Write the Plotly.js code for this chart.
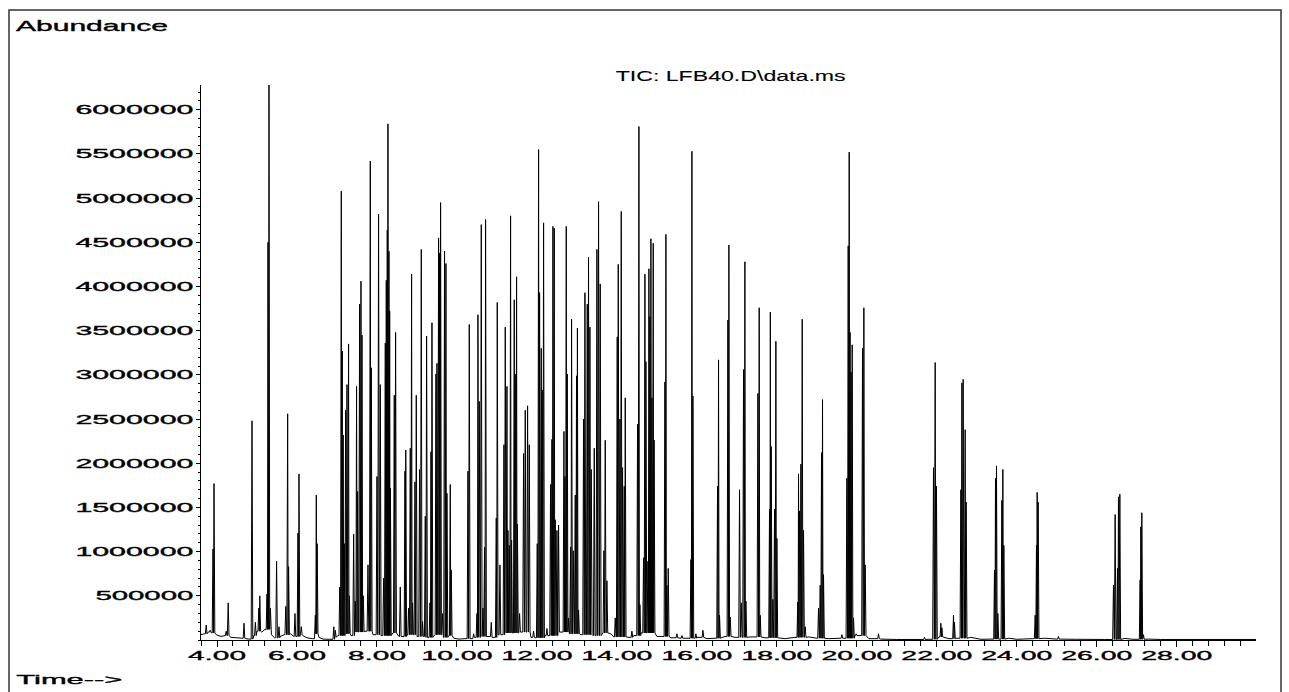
<!DOCTYPE html>
<html>
<head>
<meta charset="utf-8">
<script src="https://cdn.plot.ly/plotly-3.0.1.min.js"></script>
<style>
  html, body { margin: 0; padding: 0; background: #fff; }
  #chart { width: 1289px; height: 692px; }
  #chart .xtick text, #chart .ytick text, #chart .annotation-text { stroke: #000; stroke-width: 0.35px; }
  #chart .annotation[data-index="1"] .annotation-text { stroke-width: 0.1px; }
</style>
</head>
<body>
<div id="chart"></div>
<script>
// ---- Data (retention time in minutes, abundance in counts) ----
const peakTime = [
  3.73, 3.83, 3.90, 3.925, 4.23, 4.28, 4.675, 4.875, 4.96, 5.045,
  5.07, 5.25, 5.275, 5.30, 5.335, 5.49, 5.55, 5.72, 5.767, 5.79,
  5.95, 6.025, 6.05, 6.108, 6.458, 6.483, 6.505, 6.92, 6.96, 7.07,
  7.108, 7.133, 7.155, 7.183, 7.216, 7.25, 7.29, 7.31, 7.417, 7.458,
  7.49, 7.516, 7.566, 7.60, 7.625, 7.658, 7.775, 7.833, 7.858, 8.00,
  8.04, 8.083, 8.166, 8.208, 8.233, 8.258, 8.275, 8.30, 8.318, 8.336,
  8.433, 8.466, 8.583, 8.70, 8.72, 8.79, 8.833, 8.866, 8.89, 8.95,
  8.983, 9.065, 9.108, 9.14, 9.208, 9.241, 9.325, 9.35, 9.375, 9.475,
  9.50, 9.541, 9.566, 9.591, 9.641, 9.69, 9.725, 9.75, 9.833, 9.858,
  10.275, 10.308, 10.416, 10.50, 10.525, 10.558, 10.608, 10.65, 10.69, 10.716,
  10.858, 10.983, 11.008, 11.075, 11.175, 11.208, 11.25, 11.275, 11.308, 11.341,
  11.366, 11.433, 11.458, 11.491, 11.512, 11.566, 11.666, 11.708, 11.766, 11.808,
  11.916, 12.008, 12.041, 12.066, 12.108, 12.133, 12.166, 12.25, 12.341, 12.375,
  12.40, 12.433, 12.458, 12.50, 12.541, 12.675, 12.70, 12.733, 12.758, 12.791,
  12.841, 12.866, 12.908, 12.958, 12.99, 13.012, 13.041, 13.166, 13.20, 13.258,
  13.29, 13.325, 13.358, 13.433, 13.50, 13.541, 13.583, 13.675, 13.708, 13.75,
  13.958, 14.008, 14.033, 14.075, 14.108, 14.141, 14.183, 14.208, 14.375, 14.516,
  14.55, 14.575, 14.666, 14.70, 14.725, 14.775, 14.80, 14.825, 14.85, 14.875,
  14.908, 14.93, 15.20, 15.225, 15.25, 15.283, 15.50, 15.625, 15.85, 15.875,
  15.90, 15.975, 16.15, 16.516, 16.541, 16.566, 16.775, 16.80, 16.833, 17.066,
  17.108, 17.166, 17.20, 17.225, 17.525, 17.558, 17.583, 17.816, 17.836, 17.858,
  17.90, 17.941, 17.975, 18.00, 18.522, 18.541, 18.566, 18.60, 18.633, 18.666,
  18.708, 19.041, 19.083, 19.116, 19.141, 19.166, 19.625, 19.75, 19.783, 19.808,
  19.83, 19.855, 19.883, 19.916, 19.983, 20.141, 20.175, 20.208, 20.541, 21.69,
  21.916, 21.958, 21.99, 22.10, 22.125, 22.416, 22.44, 22.60, 22.625, 22.658,
  22.708, 22.733, 23.441, 23.466, 23.491, 23.525, 23.625, 23.65, 23.675, 24.458,
  24.491, 24.508, 24.533, 25.04, 26.416, 26.458, 26.516, 26.541, 26.575, 27.083,
  27.10, 27.125, 27.166
];
const peakAbundance = [
  170000, 110000, 1030000, 1770000, 100000, 420000, 190000, 2480000, 200000, 360000,
  500000, 520000, 4500000, 6280000, 360000, 890000, 150000, 380000, 2560000, 830000,
  300000, 1210000, 1880000, 150000, 280000, 1640000, 1090000, 150000, 110000, 600000,
  5080000, 3270000, 2320000, 1090000, 2600000, 2890000, 3350000, 500000, 1200000, 440000,
  2870000, 1680000, 3800000, 4060000, 3450000, 500000, 850000, 5420000, 3080000, 1850000,
  4820000, 2890000, 700000, 3360000, 4070000, 4640000, 5840000, 4400000, 3720000, 1720000,
  2770000, 3480000, 600000, 1910000, 2150000, 360000, 2170000, 4140000, 420000, 1790000,
  2770000, 1930000, 4420000, 210000, 1400000, 3440000, 420000, 2130000, 3590000, 3010000,
  3130000, 4550000, 4380000, 4950000, 300000, 4400000, 4260000, 1660000, 1760000, 790000,
  1910000, 3570000, 70000, 300000, 3680000, 2700000, 4700000, 360000, 1050000, 4760000,
  200000, 1380000, 3820000, 850000, 2210000, 3540000, 2870000, 1240000, 1070000, 4800000,
  1130000, 3850000, 3010000, 4110000, 1310000, 300000, 2110000, 2600000, 2650000, 2210000,
  100000, 1090000, 5550000, 3930000, 3300000, 2830000, 4720000, 130000, 1760000, 2270000,
  4680000, 4660000, 1360000, 1240000, 1300000, 2360000, 1850000, 4680000, 3010000, 250000,
  1050000, 3630000, 1010000, 1640000, 2990000, 3530000, 340000, 2500000, 3930000, 3800000,
  4330000, 3540000, 1930000, 2170000, 4420000, 4960000, 4030000, 1010000, 2260000, 670000,
  250000, 3430000, 4250000, 2500000, 4850000, 1950000, 1740000, 2740000, 100000, 2440000,
  5810000, 400000, 930000, 4140000, 3150000, 890000, 4200000, 3660000, 4540000, 2740000,
  4490000, 2260000, 2920000, 4590000, 620000, 810000, 70000, 50000, 910000, 5530000,
  2760000, 70000, 110000, 1740000, 3170000, 280000, 3620000, 4470000, 260000, 1700000,
  420000, 3060000, 4280000, 440000, 2790000, 3760000, 280000, 1480000, 3710000, 2190000,
  460000, 1480000, 3380000, 1150000, 430000, 1880000, 1460000, 1990000, 3630000, 1240000,
  150000, 360000, 620000, 2120000, 2720000, 740000, 60000, 1830000, 4460000, 5520000,
  3480000, 3030000, 3340000, 250000, 70000, 3300000, 3760000, 850000, 70000, 30000,
  1950000, 3140000, 1740000, 190000, 140000, 280000, 200000, 1700000, 2910000, 2950000,
  2380000, 1560000, 790000, 1830000, 1970000, 300000, 1580000, 1930000, 1070000, 280000,
  1070000, 1670000, 1560000, 40000, 620000, 1420000, 810000, 1620000, 1650000, 680000,
  1280000, 1440000, 60000
];
// Baseline readings between the peaks
const baseTime = [
  3.60, 3.68, 3.78, 3.86, 3.98, 4.10, 4.20, 4.35, 4.50, 4.62,
  4.72, 4.80, 4.92, 5.00, 5.12, 5.20, 5.36, 5.44, 5.58, 5.68,
  5.84, 5.92, 6.08, 6.16, 6.25, 6.38, 6.44, 6.55, 6.65, 6.85,
  6.95, 7.02, 7.20, 7.35, 7.45, 7.70, 7.90, 8.10, 8.40, 8.55,
  8.75, 9.00, 9.20, 9.45, 9.65, 9.80, 9.92, 10.05, 10.20, 10.40,
  10.60, 10.85, 11.00, 11.20, 11.55, 11.85, 11.95, 12.20, 12.55, 12.80,
  13.10, 13.40, 13.65, 13.85, 13.92, 14.30, 14.42, 14.60, 15.00, 15.35,
  15.60, 16.00, 16.25, 16.45, 16.70, 16.95, 17.35, 17.70, 18.20, 18.45,
  18.80, 19.00, 19.30, 19.60, 19.95, 20.30, 20.60, 21.00, 21.80, 22.05,
  22.30, 22.50, 22.85, 23.10, 23.35, 23.80, 24.00, 24.40, 24.70, 25.00,
  25.50, 26.20, 26.70, 26.90, 27.30, 27.60, 30.00
];
const baseLevel = [
  60000, 70000, 90000, 80000, 60000, 40000, 50000, 30000, 25000, 20000,
  15000, 10000, 50000, 100000, 90000, 120000, 60000, 25000, 40000, 60000,
  70000, 40000, 60000, 45000, 25000, 15000, 70000, 30000, 10000, 8000,
  30000, 50000, 70000, 50000, 90000, 100000, 60000, 50000, 80000, 40000,
  60000, 40000, 30000, 60000, 30000, 50000, 20000, 10000, 15000, 30000,
  40000, 30000, 60000, 80000, 90000, 30000, 25000, 50000, 90000, 70000,
  60000, 50000, 80000, 70000, 35000, 30000, 50000, 80000, 40000, 25000,
  20000, 30000, 15000, 20000, 40000, 30000, 35000, 25000, 15000, 30000,
  35000, 20000, 15000, 20000, 50000, 15000, 10000, 6000, 8000, 35000,
  15000, 20000, 30000, 8000, 10000, 20000, 8000, 15000, 20000, 10000,
  8000, 6000, 18000, 8000, 10000, 6000, 6000
];
// Tick labels
const xTickVals = [4, 6, 8, 10, 12, 14, 16, 18, 20, 22, 24, 26, 28];
const xTickText = ['4.00', '6.00', '8.00', '10.00', '12.00', '14.00', '16.00', '18.00', '20.00', '22.00', '24.00', '26.00', '28.00'];
const yTickVals = [500000, 1000000, 1500000, 2000000, 2500000, 3000000, 3500000, 4000000, 4500000, 5000000, 5500000, 6000000];
const yTickText = ['500000', '1000000', '1500000', '2000000', '2500000', '3000000', '3500000', '4000000', '4500000', '5000000', '5500000', '6000000'];
const titleText = 'TIC: LFB40.D\\data.ms';
const yLabelText = 'Abundance';
const xLabelText = 'Time-->';

// ---- Build the line trace (each peak drawn as a narrow spike on the baseline) ----
const HALF_WIDTH = 0.02;
function baseAt(t) {
  let v = baseLevel[0];
  for (let i = 0; i < baseTime.length; i++) {
    if (baseTime[i] <= t) v = baseLevel[i]; else break;
  }
  return v;
}
const intervals = [];
const pts = [];
for (let i = 0; i < peakTime.length; i++) {
  const t = peakTime[i];
  const lo = i > 0 ? Math.max(t - HALF_WIDTH, (peakTime[i - 1] + t) / 2) : t - HALF_WIDTH;
  const hi = i < peakTime.length - 1 ? Math.min(t + HALF_WIDTH, (t + peakTime[i + 1]) / 2) : t + HALF_WIDTH;
  intervals.push([lo, hi]);
  pts.push([lo, baseAt(lo)], [t, peakAbundance[i]], [hi, baseAt(hi)]);
}
baseTime.forEach((t, i) => {
  const inside = intervals.some(iv => t >= iv[0] && t <= iv[1]);
  if (!inside) pts.push([t, baseLevel[i]]);
});
pts.sort((a, b) => a[0] - b[0]);

const trace = {
  type: 'scatter',
  mode: 'lines',
  x: pts.map(p => p[0]),
  y: pts.map(p => p[1]),
  line: { color: '#000000', width: 1, simplify: false },
  hoverinfo: 'skip'
};

const FONT = 'Liberation Sans, Arial, sans-serif';
const W = 1289, H = 692, ML = 201, MR = 33, MT = 85, MB = 52;
const PW = W - ML - MR, PH = H - MT - MB;
const px = x => (x - ML) / PW;
const py = y => (H - MB - y) / PH;

const layout = {
  width: W, height: H,
  margin: { l: ML, r: MR, t: MT, b: MB, pad: 0 },
  paper_bgcolor: '#ffffff',
  plot_bgcolor: '#ffffff',
  showlegend: false,
  xaxis: {
    range: [3.6, 29.98],
    tickmode: 'array', tickvals: xTickVals, ticktext: xTickText,
    ticks: 'outside', ticklen: 6, tickwidth: 1, tickcolor: '#000',
    ticklabelstandoff: -3,
    showline: true, linecolor: '#000', linewidth: 1,
    showgrid: false, zeroline: false,
    tickfont: { family: FONT, size: 13, color: '#000' },
    minor: { tickmode: 'linear', tick0: 3.6, dtick: 0.4, ticks: 'outside', ticklen: 5, tickwidth: 1, tickcolor: '#000', showgrid: false }
  },
  yaxis: {
    range: [0, 6.28e6],
    tickmode: 'array', tickvals: yTickVals, ticktext: yTickText,
    ticks: 'outside', ticklen: 4, tickwidth: 1, tickcolor: '#000',
    showline: true, linecolor: '#000', linewidth: 1,
    showgrid: false, zeroline: false,
    tickfont: { family: FONT, size: 13, color: '#000' },
    minor: { tickmode: 'linear', tick0: 0, dtick: 100000, ticks: 'outside', ticklen: 2.5, tickwidth: 1, tickcolor: '#000', showgrid: false }
  },
  annotations: [
    { text: yLabelText, xref: 'paper', yref: 'paper', x: px(92), y: py(26), xanchor: 'center', yanchor: 'middle', showarrow: false, font: { family: FONT, size: 15, color: '#000' } },
    { text: titleText, xref: 'paper', yref: 'paper', x: px(730), y: py(75.7), xanchor: 'center', yanchor: 'middle', showarrow: false, font: { family: FONT, size: 14, color: '#000' } },
    { text: xLabelText, xref: 'paper', yref: 'paper', x: px(69), y: py(679), xanchor: 'center', yanchor: 'middle', showarrow: false, font: { family: FONT, size: 13, color: '#000' } }
  ],
  shapes: [
    { type: 'rect', xref: 'paper', yref: 'paper', x0: px(9), x1: px(1281), y0: py(700), y1: py(10), line: { color: '#333', width: 1.5 }, fillcolor: 'rgba(0,0,0,0)', layer: 'below' }
  ]
};

// Widths of the horizontally stretched lettering of the original printout
const stretchWidths = { 'Abundance': 152, 'Time-->': 106 };
stretchWidths[titleText] = 230;
function tickWidth(s, axis) {
  if (axis === 'y') return s.length >= 7 ? 118 : 98;
  return s.length >= 5 ? 71 : 58;
}
function stretch(el, w) {
  el.setAttribute('textLength', w);
  el.setAttribute('lengthAdjust', 'spacingAndGlyphs');
}

const gd = document.getElementById('chart');
Plotly.newPlot(gd, [trace], layout, { staticPlot: true, displayModeBar: false }).then(() => {
  gd.querySelectorAll('.ytick text').forEach(el => stretch(el, tickWidth(el.textContent, 'y')));
  gd.querySelectorAll('.xtick text').forEach(el => stretch(el, tickWidth(el.textContent, 'x')));
  gd.querySelectorAll('.annotation-text').forEach(el => {
    const w = stretchWidths[el.textContent];
    if (w) stretch(el, w);
  });
});
</script>
</body>
</html>
